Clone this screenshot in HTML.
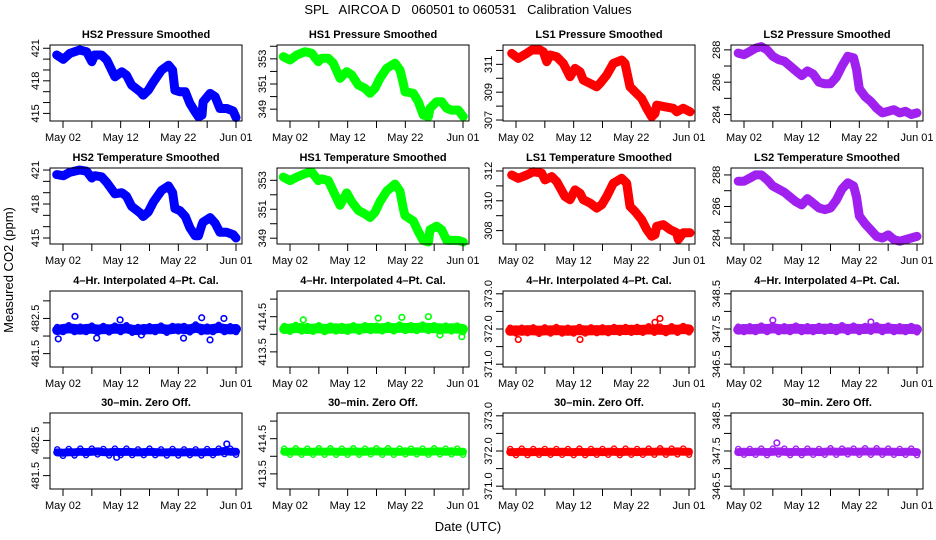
<!DOCTYPE html>
<html><head><meta charset="utf-8"><style>
html,body{margin:0;padding:0;background:#fff;}
svg{display:block;font-family:"Liberation Sans",Arial,sans-serif;}
text{white-space:pre;}
</style></head><body>
<svg id="chart" width="936" height="540" viewBox="0 0 936 540">
<text x="468" y="14" font-size="13" text-anchor="middle">SPL   AIRCOA D   060501 to 060531   Calibration Values</text>
<text x="468" y="531" font-size="13" text-anchor="middle">Date (UTC)</text>
<text transform="translate(13,270) rotate(-90)" font-size="13" text-anchor="middle">Measured CO2 (ppm)</text>
</svg>
<script>
// ---- data ----
const xTickDays = [2, 7, 12, 17, 22, 27, 32];
const xTickLabels = ["May 02", "", "May 12", "", "May 22", "", "Jun 01"];
const panelTitles = [
 "HS2 Pressure Smoothed","HS1 Pressure Smoothed","LS1 Pressure Smoothed","LS2 Pressure Smoothed",
 "HS2 Temperature Smoothed","HS1 Temperature Smoothed","LS1 Temperature Smoothed","LS2 Temperature Smoothed",
 "4\u2013Hr. Interpolated 4\u2013Pt. Cal.","4\u2013Hr. Interpolated 4\u2013Pt. Cal.","4\u2013Hr. Interpolated 4\u2013Pt. Cal.","4\u2013Hr. Interpolated 4\u2013Pt. Cal.",
 "30\u2013min. Zero Off.","30\u2013min. Zero Off.","30\u2013min. Zero Off.","30\u2013min. Zero Off."];
const colColors = ["#0000ff","#00ff00","#ff0000","#a020f0"];

const hs2Days = [0.9,2.06,3.2,4.9,6.1,7.0,7.5,8.7,9.6,11.0,12.2,13.0,13.9,15.4,15.9,16.8,17.7,19.1,20.3,21.0,21.4,22.3,23.2,24.0,24.9,25.5,26.1,26.3,27.5,28.4,29.2,30.4,31.5,32.0];
const hs2PresVals = [420.38,419.98,420.53,420.84,420.68,419.76,420.38,420.38,419.92,418.37,418.83,418.53,417.61,416.99,416.68,417.14,417.91,418.99,419.45,418.99,417.14,416.99,416.99,415.92,415.15,414.68,414.84,416.06,416.84,416.53,415.45,415.45,415.23,414.62];
const hs2TempVals = [420.6,420.5,420.8,421.0,420.9,420.3,420.5,420.4,419.9,418.9,419.0,418.7,417.8,417.2,416.9,417.3,418.2,419.2,419.6,419.0,417.6,417.4,416.9,415.9,415.2,415.2,416.2,416.4,416.8,416.3,415.5,415.5,415.3,415.0];

const hs1Days = [0.84,2.0,3.16,4.6,5.76,6.91,7.49,8.65,9.5,10.67,11.83,12.7,13.85,15.0,15.87,16.74,17.6,18.77,20.2,21.07,21.65,21.94,23.38,24.25,25.1,26.0,26.27,27.43,28.3,29.17,30.03,31.18,32.05];
const hs1PresVals = [353.17,352.91,353.3,353.57,353.44,352.77,353.04,353.04,352.65,351.45,351.98,351.72,350.92,350.66,350.26,350.66,351.45,352.25,352.65,352.11,351.06,350.39,350.26,349.59,348.54,348.4,349.07,349.59,349.59,349.07,348.93,348.93,348.4];
const hs1TempVals = [353.22,352.98,353.22,353.46,353.58,352.98,353.1,352.98,352.25,351.28,352.13,351.52,350.92,350.67,350.43,350.8,351.52,352.25,352.74,352.25,351.04,350.56,350.19,349.46,348.85,348.74,349.58,349.83,349.58,348.85,348.85,348.85,348.74];

const ls1PresDays = [1.25,2.4,3.85,4.72,6.16,6.74,7.32,7.9,9.06,10.2,11.36,12.23,13.1,13.67,14.83,16.0,16.57,17.73,18.87,20.33,20.9,21.77,22.63,23.8,24.66,25.53,26.1,26.4,27.84,29.28,29.87,31.0,32.17];
const ls1PresVals = [311.79,311.43,311.79,312.03,312.03,311.91,311.19,311.67,311.55,311.07,310.11,310.71,310.47,309.87,309.63,309.39,309.63,310.23,311.07,311.31,311.07,309.39,309.03,308.55,307.84,307.23,307.47,308.07,307.95,307.84,307.59,307.84,307.59];
const ls1TempDays = [1.25,2.4,3.85,5.0,6.45,7.03,8.19,9.06,10.5,11.36,12.23,13.1,13.67,14.83,16.0,16.86,17.73,18.87,20.33,21.2,21.77,22.63,23.8,24.66,25.53,26.1,26.4,27.55,28.7,29.87,30.15,31.0,32.17];
const ls1TempVals = [311.73,311.51,311.73,311.95,311.85,311.4,311.62,311.29,310.29,310.07,310.73,310.51,310.07,309.85,309.51,309.73,310.29,311.18,311.51,311.18,309.62,309.29,308.73,308.07,307.62,307.73,308.29,308.4,308.07,307.85,307.4,307.85,307.85];

const ls2Days = [1,2,3,4,5,6,7,8,9,10,11,12,13,14,15,16,17,18,19,20,21,21.5,22,23,24,25,26,27,28,29,30,31,32];
const ls2PresVals = [287.8,287.7,287.9,288.1,288.2,288.0,287.6,287.4,287.3,287.0,286.7,286.4,286.7,286.5,286.0,285.9,285.9,286.3,287.0,287.6,287.5,286.8,285.6,285.1,284.8,284.4,284.1,284.2,284.3,284.1,284.2,284.0,284.1];
const ls2TempVals = [287.6,287.6,287.8,288.0,288.0,287.7,287.3,287.1,286.9,286.6,286.3,286.1,286.5,286.2,285.9,285.8,285.9,286.4,287.1,287.5,287.3,286.6,285.4,284.9,284.5,284.1,284.0,284.2,283.9,283.8,283.9,284.0,284.1];

const bandDays = [1,2,3,4,5,6,7,8,9,10,11,12,13,14,15,16,17,18,19,20,21,22,23,24,25,26,27,28,29,30,31,32];
const hs2CalVals = [482.17,482.2,482.22,482.2,482.18,482.2,482.21,482.18,482.2,482.19,482.21,482.2,482.22,482.18,482.17,482.2,482.19,482.2,482.21,482.18,482.2,482.22,482.2,482.19,482.24,482.2,482.18,482.2,482.23,482.2,482.19,482.2];
const hs1CalVals = [414.15,414.16,414.18,414.17,414.15,414.16,414.17,414.15,414.16,414.17,414.15,414.16,414.17,414.16,414.17,414.18,414.16,414.17,414.18,414.17,414.19,414.18,414.17,414.18,414.19,414.18,414.17,414.17,414.16,414.17,414.16,414.15];
const ls1CalVals = [371.95,371.96,371.95,371.97,371.96,371.95,371.96,371.96,371.97,371.96,371.95,371.96,371.97,371.96,371.96,371.97,371.96,371.97,371.97,371.98,371.97,371.98,371.97,371.98,371.99,371.98,371.98,371.97,371.99,371.98,372.0,371.99];
const ls2CalVals = [347.48,347.5,347.49,347.5,347.51,347.5,347.52,347.5,347.49,347.5,347.51,347.5,347.49,347.5,347.5,347.51,347.5,347.5,347.52,347.5,347.51,347.5,347.5,347.51,347.52,347.5,347.51,347.5,347.49,347.5,347.5,347.49];
const hs2ZeroVals = [482.16,482.15,482.17,482.16,482.18,482.17,482.18,482.19,482.17,482.16,482.18,482.17,482.18,482.17,482.16,482.17,482.18,482.17,482.16,482.16,482.17,482.16,482.16,482.17,482.16,482.16,482.17,482.17,482.18,482.2,482.18,482.18];
const hs1ZeroVals = [414.13,414.13,414.14,414.13,414.13,414.13,414.14,414.13,414.14,414.13,414.13,414.13,414.14,414.13,414.13,414.14,414.14,414.13,414.14,414.13,414.13,414.14,414.13,414.14,414.13,414.13,414.14,414.14,414.13,414.14,414.13,414.13];
const ls1ZeroVals = [371.97,371.97,371.98,371.97,371.97,371.98,371.97,371.98,371.97,371.98,371.97,371.97,371.98,371.97,371.97,371.98,371.97,371.98,371.98,371.97,371.98,371.98,371.97,371.98,371.98,371.98,371.99,371.98,371.98,371.99,371.98,371.98];
const ls2ZeroVals = [347.47,347.48,347.47,347.48,347.48,347.47,347.48,347.49,347.48,347.47,347.48,347.47,347.48,347.48,347.47,347.48,347.49,347.48,347.48,347.49,347.48,347.48,347.49,347.48,347.49,347.48,347.48,347.48,347.47,347.48,347.48,347.47];

const hs2CalOutDays = [1.18,4.08,7.84,11.9,15.6,22.9,26.05,27.5,29.9];
const hs2CalOutVals = [481.92,482.56,481.94,482.46,482.03,481.94,482.52,481.89,482.5];
const hs1CalOutDays = [4.3,17.3,21.4,26.0,28.0,31.8];
const hs1CalOutVals = [414.41,414.46,414.48,414.5,413.98,413.93];
const ls1CalOutDays = [2.4,13.1,26.1,26.97];
const ls1CalOutVals = [371.7,371.7,372.19,372.3];
const ls2CalOutDays = [7.0,24.0];
const ls2CalOutVals = [347.75,347.7];
const hs2ZeroOutDays = [11.3,30.4];
const hs2ZeroOutVals = [482.02,482.4];
const ls2ZeroOutDays = [7.7];
const ls2ZeroOutVals = [347.73];

// y-axis limits and ticks per panel
const yLimits = [
 [414.3,421.3],[348.06,354.1],[306.93,312.39],[283.6,288.3],
 [414.47,421.18],[348.6,353.85],[307.1,312.2],[283.62,288.44],
 [481.12,483.28],[413.07,415.23],[370.92,373.08],[346.42,348.58],
 [481.12,483.28],[413.07,415.23],[370.92,373.08],[346.42,348.58]];
const yTicks = [
 [415,416,417,418,419,420,421],[349,350,351,352,353,354],[307,308,309,310,311,312],[284,285,286,287,288],
 [415,416,417,418,419,420,421],[349,350,351,352,353],[308,309,310,311,312],[284,285,286,287,288],
 [481.5,482,482.5,483],[413.5,414,414.5,415],[371,371.5,372,372.5,373],[346.5,347,347.5,348,348.5],
 [481.5,482,482.5,483],[413.5,414,414.5,415],[371,371.5,372,372.5,373],[346.5,347,347.5,348,348.5]];
const yTickLabels = [
 ["415","","","418","","","421"],["349","","351","","353",""],["307","","309","","311",""],["284","","286","","288"],
 ["415","","","418","","","421"],["349","","351","","353"],["308","","310","","312"],["284","","286","","288"],
 ["481.5","","482.5",""],["413.5","","414.5",""],["371.0","","372.0","","373.0"],["346.5","","347.5","","348.5"],
 ["481.5","","482.5",""],["413.5","","414.5",""],["371.0","","372.0","","373.0"],["346.5","","347.5","","348.5"]];

const seriesDays = [hs2Days,hs1Days,ls1PresDays,ls2Days, hs2Days,hs1Days,ls1TempDays,ls2Days,
 bandDays,bandDays,bandDays,bandDays, bandDays,bandDays,bandDays,bandDays];
const seriesVals = [hs2PresVals,hs1PresVals,ls1PresVals,ls2PresVals, hs2TempVals,hs1TempVals,ls1TempVals,ls2TempVals,
 hs2CalVals,hs1CalVals,ls1CalVals,ls2CalVals, hs2ZeroVals,hs1ZeroVals,ls1ZeroVals,ls2ZeroVals];
const outDays = [[],[],[],[],[],[],[],[], hs2CalOutDays,hs1CalOutDays,ls1CalOutDays,ls2CalOutDays, hs2ZeroOutDays,[],[],ls2ZeroOutDays];
const outVals = [[],[],[],[],[],[],[],[], hs2CalOutVals,hs1CalOutVals,ls1CalOutVals,ls2CalOutVals, hs2ZeroOutVals,[],[],ls2ZeroOutVals];

// ---- layout ----
const colLeft = [50,277,503,731];
const rowTop = [45,168,291,413];
const boxW = 192, boxH = 76;
const NS = "http://www.w3.org/2000/svg";
const svg = document.getElementById("chart");
function mk(tag, attrs, parent){
  const e = document.createElementNS(NS, tag);
  for (const k in attrs) e.setAttribute(k, attrs[k]);
  (parent||svg).appendChild(e);
  return e;
}
for (let p = 0; p < 16; p++) {
  const r = Math.floor(p/4), c = p % 4;
  const L = colLeft[c], T = rowTop[r];
  const xs = d => L + 13 + (d - 2) * 173 / 30;
  const lim = yLimits[p];
  const ys = v => T + boxH - (v - lim[0]) / (lim[1] - lim[0]) * boxH;
  const g = mk("g", {});
  
  
  const t = mk("text", {x: L + boxW/2, y: T - 7, "font-size": 11, "font-weight": "bold", "text-anchor": "middle"}, g);
  t.textContent = panelTitles[p];
  
  
  const col = colColors[c];
  const pts = seriesDays[p].map((d,i) => xs(d).toFixed(1) + "," + ys(seriesVals[p][i]).toFixed(1)).join(" ");
  const sw = r < 2 ? 9 : (r === 2 ? 10 : 8);
  const line = mk("polyline", {points: pts, fill: "none", stroke: col, "stroke-width": sw, "stroke-linejoin": "round", "stroke-linecap": "round"}, g);
  
  
  if (r >= 2) {
    seriesDays[p].forEach((d,i) => {
      const ci = mk("circle", {cx: xs(d), cy: ys(seriesVals[p][i]) + (i%2 ? 3 : -3), r: 2.6, fill: "none", stroke: col, "stroke-width": 1.4}, g);
      
      
    });
  }
  outDays[p].forEach((d,i) => {
    const ci = mk("circle", {cx: xs(d), cy: ys(outVals[p][i]), r: 2.8, fill: "none", stroke: col, "stroke-width": 1.6}, g);
    
    
  });
  const box = mk("rect", {x: L, y: T, width: boxW, height: boxH, fill: "none", stroke: "#000", "stroke-width": 1}, g);
  
  
  xTickDays.forEach((d,i) => {
    const x = xs(d);
    const tk = mk("line", {x1: x, x2: x, y1: T + boxH, y2: T + boxH + 7, stroke: "#000"}, g);
    
    
    if (xTickLabels[i]) {
      const tl = mk("text", {x: x, y: T + boxH + 20, "font-size": 11, "text-anchor": "middle"}, g);
      tl.textContent = xTickLabels[i];
      
      
    }
  });
  yTicks[p].forEach((v,i) => {
    const y = ys(v);
    const tk = mk("line", {x1: L - 7, x2: L, y1: y, y2: y, stroke: "#000"}, g);
    
    
    if (yTickLabels[p][i]) {
      const tl = mk("text", {transform: "translate(" + (L - 11) + "," + y + ") rotate(-90)", "font-size": 11, "text-anchor": "middle"}, g);
      tl.textContent = yTickLabels[p][i];
      
      
    }
  });
}
</script>
</body></html>
